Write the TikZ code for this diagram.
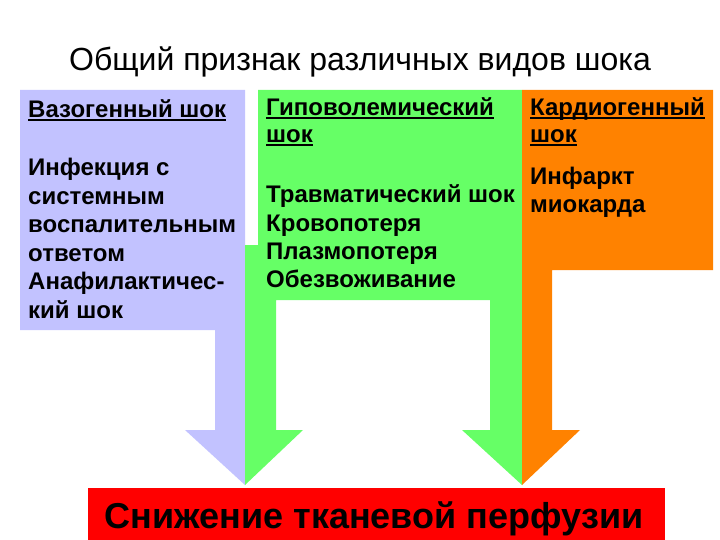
\documentclass[tikz,border=0pt]{standalone}
\usepackage{fontspec}
\setmainfont{Liberation Sans}
\definecolor{lav}{RGB}{194,194,255}
\definecolor{grn}{RGB}{102,255,102}
\definecolor{org}{RGB}{255,130,0}
\definecolor{rd}{RGB}{255,0,0}
\newcommand\myul[1]{\setbox0\hbox{#1}\rlap{\rule[-3pt]{\wd0}{1.6pt}}\box0}
\begin{document}
\begin{tikzpicture}[x=1pt,y=-1pt,
  txt/.style={anchor=base west,inner sep=0pt,font=\fontsize{24}{26}\selectfont\bfseries}]
\useasboundingbox (0,0) rectangle (720,540);
% shapes
\path[fill=lav] (20,90) -- (245,90) -- (245,485) -- (185,430) -- (215,430) -- (215,330) -- (20,330) -- cycle;
\path[fill=grn] (258,90) -- (522,90) -- (522,485) -- (462,430) -- (490,430) -- (490,300) -- (276,300) -- (276,430) -- (303,430) -- (245,485) -- (245,245) -- (258,245) -- cycle;
\path[fill=org] (522,90) -- (713,90) -- (713,270) -- (552,270) -- (552,430) -- (580,430) -- (522,485) -- cycle;
% title
\node[anchor=base,inner sep=0pt,font=\fontsize{32}{34}\selectfont] (title) at (360,71) {Общий признак различных видов шока};
% lavender texts
\node[txt] (v0) at (28,118) {\myul{Вазогенный шок}};
\foreach \t [count=\i] in {Инфекция с,системным,воспалительным,ответом,Анафилактичес-,кий шок}
  \node[txt] (v\i) at (28,{176+28.4*(\i-1)}) {\t};
% green texts
\node[txt] (g0) at (266,116) {\myul{Гиповолемический}};
\node[txt] (g1) at (266,143) {\myul{шок}};
\foreach \t [count=\i] in {Травматический шок,Кровопотеря,Плазмопотеря,Обезвоживание}
  \node[txt] (gb\i) at (266,{203+28.2*(\i-1)}) {\t};
% orange texts
\node[txt] (o0) at (530,116) {\myul{Кардиогенный}};
\node[txt] (o1) at (530,143) {\myul{шок}};
\node[txt] (o2) at (530,185) {Инфаркт};
\node[txt] (o3) at (530,213) {миокарда};
% red box
\path[fill=rd] (88,488) rectangle (665,540);
\node[anchor=base,inner sep=0pt,font=\fontsize{36}{38}\selectfont\bfseries] (res) at (374,528) {Снижение тканевой перфузии};
\end{tikzpicture}
\end{document}
